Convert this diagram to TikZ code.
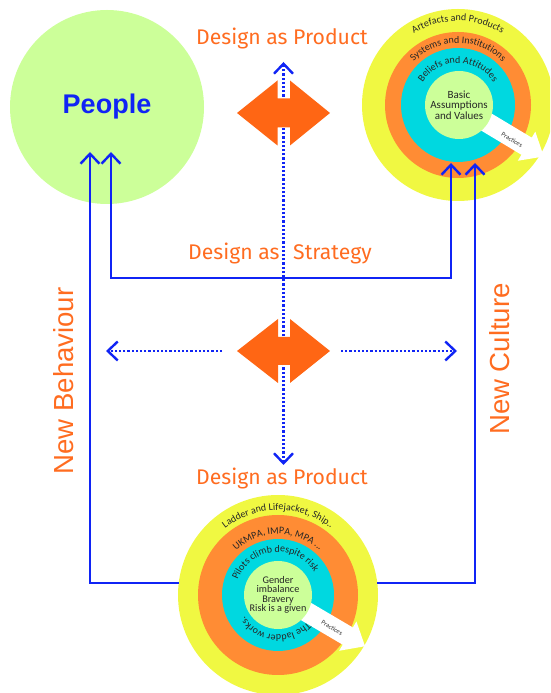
\documentclass[tikz,border=0pt]{standalone}
\usepackage{fontspec}
\setmainfont{Fira Sans}
\newfontfamily\arialf{Liberation Sans}
\newfontfamily\ringf{Carlito}
\usetikzlibrary{arrows.meta,decorations.text}
\definecolor{pgreen}{RGB}{204,255,153}
\definecolor{ryellow}{RGB}{240,248,66}
\definecolor{rorange}{RGB}{255,140,52}
\definecolor{rcyan}{RGB}{0,216,224}
\definecolor{lorange}{RGB}{255,108,32}
\definecolor{sorange}{RGB}{255,102,20}
\definecolor{lblue}{RGB}{16,36,245}
\newcommand\ringtxt{\ringf\fontsize{10}{11}\selectfont}
\tikzset{
  disc/.style={circle, inner sep=0pt, minimum size=#1},
  conn/.style={draw=lblue, line width=2.4pt},
  barb/.tip={Straight Barb[length=10pt,width=19pt]},
  dotl/.style={draw=lblue, line width=2.4pt, dash pattern=on 2.2pt off 2pt},
  lab/.style={text=lorange, font=\fontsize{21.2}{25}\selectfont, inner sep=0pt, anchor=base},
  sidelab/.style={text=lorange, font=\arialf\fontsize{27.6}{30}\selectfont, inner sep=0pt, rotate=90},
  ringlab/.style={decorate, decoration={text along path, text align=center, text color=black!85, text={|\ringtxt|#1}}},
  practice/.style={fill=white},
  prtxt/.style={font=\ringf\fontsize{6.5}{7}\selectfont, text=black!80, inner sep=0pt, rotate=-31},
  dblarrow/.style={fill=sorange}
}
\begin{document}
\begin{tikzpicture}[x=1pt,y=1pt]
\useasboundingbox (0,0) rectangle (550,693);
\clip (0,0) rectangle (550,693);

% People
\node[disc=194pt, fill=pgreen, text=lblue, font=\arialf\bfseries\fontsize{27}{30}\selectfont] (people) at (107,586) {People};

% Culture circles (top right)
\node[disc=192pt, fill=ryellow] (cultY) at (458,588) {};
\node[disc=146pt, fill=rorange] (cultO) at (458,588) {};
\node[disc=114pt, fill=rcyan] (cultC) at (458,588) {};
\begin{scope}[shift={(458,588)}, rotate=-31]
  \fill[practice] (0,-10) -- (80,-10) -- (80,-17) -- (100,0) -- (80,17) -- (80,10) -- (0,10) -- cycle;
\end{scope}
\node[disc=68pt, fill=pgreen, align=center, font=\ringf\fontsize{11}{10.5}\selectfont, text=black!85] (cultI) at (459,588) {Basic\\Assumptions\\and Values};
\node[prtxt] (pr1) at (512,553) {Practices};
\path[ringlab={Artefacts and Products}] (458,588) ++(160:84) arc[start angle=160, end angle=20, radius=84];
\path[ringlab={Systems and Institutions}] (458,588) ++(175:62) arc[start angle=175, end angle=5, radius=62];
\path[ringlab={Beliefs and Attitudes}] (458,588) ++(180:42) arc[start angle=180, end angle=0, radius=42];

% Bottom circles
\node[disc=200pt, fill=ryellow] (botY) at (278,98) {};
\node[disc=160pt, fill=rorange] (botO) at (278,98) {};
\node[disc=112pt, fill=rcyan] (botC) at (278,98) {};
\begin{scope}[shift={(278,98)}, rotate=-30.5]
  \fill[practice] (0,-10) -- (81,-10) -- (81,-17) -- (101,0) -- (81,17) -- (81,10) -- (0,10) -- cycle;
\end{scope}
\node[disc=68pt, fill=pgreen, align=center, font=\ringf\fontsize{10.2}{9.4}\selectfont, text=black!85] (botI) at (278,98) {Gender\\imbalance\\Bravery\\Risk is a given};
\node[prtxt] (pr2) at (332,65) {Practices};
\path[ringlab={Ladder and Lifejacket, Ship..}] (278,98) ++(165:85) arc[start angle=165, end angle=15, radius=85];
\path[ringlab={UKMPA, IMPA, MPA ...}] (278,98) ++(170:61) arc[start angle=170, end angle=10, radius=61];
\path[ringlab={Pilots climb despite risk}] (278,98) ++(186:43) arc[start angle=186, end angle=6, radius=43];
\path[ringlab={The ladder works.}] (278,98) ++(0:40) arc[start angle=0, end angle=-190, radius=40];

% connector end points
\coordinate (pA) at (90,541);
\coordinate (pB) at (111,541);
\coordinate (cA) at (451,530);
\coordinate (cB) at (475,530);
\coordinate (bL) at (178.6,110);
\coordinate (bR) at (377.4,110);
\coordinate (sL) at (111,415);
\coordinate (sR) at (451,415);

\draw[conn, -barb] (bL) -| (pA);
\draw[conn, -barb] (bR) -| (cB);
\draw[conn, barb-barb] (pB) -- (sL) -- (sR) -- (cA);

% dotted arrows
\coordinate (dTop) at (283.5,631);
\coordinate (dBot) at (283.5,228);
\coordinate (hL0) at (222,342);
\coordinate (hL) at (106,342);
\coordinate (hR0) at (341,342);
\coordinate (hR) at (457,342);
\draw[dotl, barb-barb] (dBot) -- (dTop);
\draw[dotl, -barb] (hL0) -- (hL);
\draw[dotl, -barb] (hR0) -- (hR);

% orange double arrows
\fill[dblarrow] (237,580) -- (277.5,612.5) -- (277.5,594.5) -- (290,594.5) -- (290,612.5) -- (330,580) -- (290,547.5) -- (290,565.5) -- (277.5,565.5) -- (277.5,547.5) -- cycle;
\fill[dblarrow] (237,342) -- (278,374) -- (278,356) -- (290,356) -- (290,374) -- (330,342) -- (290,310) -- (290,328) -- (278,328) -- (278,310) -- cycle;

% labels
\node[lab] (dp1) at (282,648) {Design as Product};
\node[lab] (ds) at (280,433) {Design as\hspace{8pt} Strategy};
\node[lab] (dp2) at (282,208) {Design as Product};
\node[sidelab] (nb) at (64,312) {New Behaviour};
\node[sidelab] (nc) at (500,334) {New Culture};
\end{tikzpicture}
\end{document}
